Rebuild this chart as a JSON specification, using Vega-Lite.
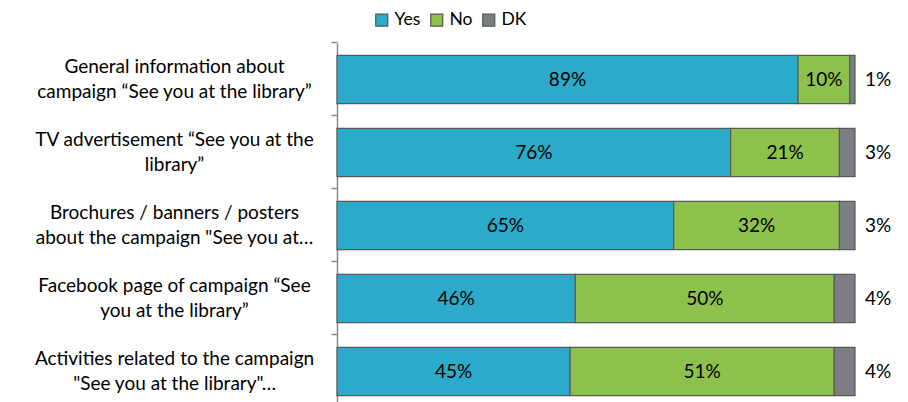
{
  "$schema": "https://vega.github.io/schema/vega-lite/v6.json",
  "width": 518,
  "height": 365,
  "autosize": {"type": "none"},
  "padding": {"left": 337, "top": 43, "right": 53, "bottom": 0},
  "background": "white",
  "config": {"font": "Lato", "view": {"stroke": null}},
  "data": {
    "values": [
      {"cat": "General information about|campaign “See you at the library”", "answer": "Yes", "order": 1, "value": 0.89},
      {"cat": "General information about|campaign “See you at the library”", "answer": "No", "order": 2, "value": 0.10},
      {"cat": "General information about|campaign “See you at the library”", "answer": "DK", "order": 3, "value": 0.01},
      {"cat": "TV advertisement “See you at the|library”", "answer": "Yes", "order": 1, "value": 0.76},
      {"cat": "TV advertisement “See you at the|library”", "answer": "No", "order": 2, "value": 0.21},
      {"cat": "TV advertisement “See you at the|library”", "answer": "DK", "order": 3, "value": 0.03},
      {"cat": "Brochures / banners / posters|about the campaign \"See you at…", "answer": "Yes", "order": 1, "value": 0.65},
      {"cat": "Brochures / banners / posters|about the campaign \"See you at…", "answer": "No", "order": 2, "value": 0.32},
      {"cat": "Brochures / banners / posters|about the campaign \"See you at…", "answer": "DK", "order": 3, "value": 0.03},
      {"cat": "Facebook page of campaign “See|you at the library”", "answer": "Yes", "order": 1, "value": 0.46},
      {"cat": "Facebook page of campaign “See|you at the library”", "answer": "No", "order": 2, "value": 0.50},
      {"cat": "Facebook page of campaign “See|you at the library”", "answer": "DK", "order": 3, "value": 0.04},
      {"cat": "Activities related to the campaign|\"See you at the library\"…", "answer": "Yes", "order": 1, "value": 0.45},
      {"cat": "Activities related to the campaign|\"See you at the library\"…", "answer": "No", "order": 2, "value": 0.51},
      {"cat": "Activities related to the campaign|\"See you at the library\"…", "answer": "DK", "order": 3, "value": 0.04}
    ]
  },
  "transform": [
    {"stack": "value", "groupby": ["cat"], "sort": [{"field": "order"}], "as": ["x0", "x1"]},
    {"calculate": "(datum.x0 + datum.x1) / 2", "as": "mid"}
  ],
  "resolve": {"axis": {"y": "independent"}},
  "layer": [
    {
      "mark": {"type": "bar", "stroke": "#595959", "strokeWidth": 1.2},
      "encoding": {
        "y": {
          "field": "cat", "type": "nominal", "sort": null,
          "scale": {"paddingInner": 0.34, "paddingOuter": 0.17},
          "axis": {"orient": "left", "title": null, "labels": false, "ticks": true, "tickSize": 6, "bandPosition": -0.26, "domain": true, "domainColor": "#888888", "tickColor": "#888888", "domainWidth": 1.5, "tickWidth": 1.5, "grid": false}
        },
        "x": {"field": "x0", "type": "quantitative", "scale": {"domain": [0, 1]}, "axis": null},
        "x2": {"field": "x1"},
        "color": {
          "field": "answer", "type": "nominal",
          "scale": {"domain": ["Yes", "No", "DK"], "range": ["#2BABC9", "#8DC14B", "#7B7E83"]},
          "legend": {
            "title": null, "orient": "none", "legendX": 36, "legendY": -32, "direction": "horizontal",
            "symbolType": "square", "symbolSize": 144, "symbolStrokeColor": "#555555", "symbolStrokeWidth": 1.2,
            "labelFontSize": 17.5, "labelColor": "#000000", "columnPadding": 7, "labelOffset": 4
          }
        }
      }
    },
    {
      "transform": [{"filter": "datum.answer != 'DK'"}],
      "mark": {"type": "text", "fontSize": 19, "color": "#000000"},
      "encoding": {
        "y": {
          "field": "cat", "type": "nominal", "sort": null,
          "axis": {"orient": "left", "title": null, "ticks": false, "domain": false, "labelAlign": "center", "labelPadding": 163, "labelOffset": -12.5, "labelFontSize": 19, "labelColor": "#000000", "labelLineHeight": 25, "labelLimit": 400, "labelExpr": "split(datum.label, '|')", "grid": false}
        },
        "x": {"field": "mid", "type": "quantitative"},
        "text": {"field": "value", "type": "quantitative", "format": ".0%"},
        "detail": {"field": "answer"}
      }
    },
    {
      "transform": [{"filter": "datum.answer == 'DK'"}],
      "mark": {"type": "text", "fontSize": 19, "color": "#000000", "dx": 23},
      "encoding": {
        "y": {"field": "cat", "type": "nominal", "sort": null, "axis": null},
        "x": {"field": "x1", "type": "quantitative"},
        "text": {"field": "value", "type": "quantitative", "format": ".0%"}
      }
    }
  ]
}
